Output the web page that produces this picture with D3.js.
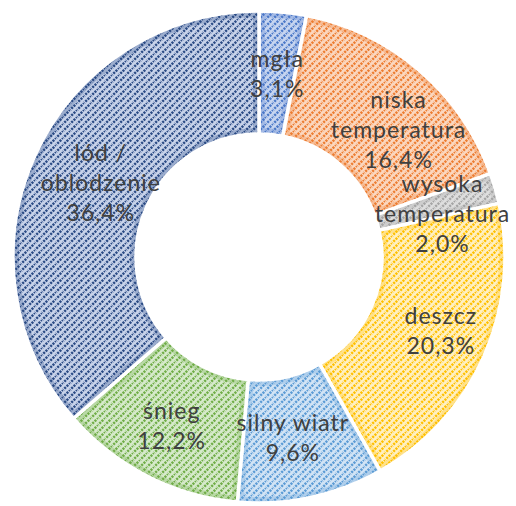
<!DOCTYPE html>
<html><head><meta charset="utf-8">
<script src="https://cdn.jsdelivr.net/npm/d3@7"></script>
<style>html,body{margin:0;padding:0;background:#fff;}svg{display:block;}</style>
</head><body>
<svg id="chart" width="516" height="506"></svg>
<script>
const categories = ["mgła", "niska temperatura", "wysoka temperatura", "deszcz", "silny wiatr", "śnieg", "lód / oblodzenie"];
const values = [3.1, 16.4, 2.0, 20.3, 9.6, 12.2, 36.4];
const labelLines = [["mgła"], ["niska", "temperatura"], ["wysoka", "temperatura"], ["deszcz"], ["silny wiatr"], ["śnieg"], ["lód /", "oblodzenie"]];
const valueLabels = ["3,1%", "16,4%", "2,0%", "20,3%", "9,6%", "12,2%", "36,4%"];
const stripeColors = ["#4a78c8", "#ed7d31", "#a5a5a5", "#ffc000", "#5b9bd5", "#70ad47", "#2b4b85"];
const bgColors = ["#c7d5f0", "#fbd7bf", "#dedede", "#fff0c2", "#d2e4f5", "#d6eacb", "#c8d3ea"];

const svg = d3.select("#chart");
const cx = 259, cy = 257, R = 246, r0 = 123;
// small label nudges (Excel best-fit placement)
const nudge = [[0, 4], [17, 16], [3, 9], [10, -2], [-6, -3], [-2, 1], [13, 4]];
const defs = svg.append("defs");

categories.forEach((c, i) => {
  const p = defs.append("pattern").attr("id", "pat" + i)
    .attr("patternUnits", "userSpaceOnUse").attr("width", 7).attr("height", 7);
  p.append("rect").attr("width", 7).attr("height", 7).attr("fill", bgColors[i]);
  const g = p.append("g").attr("stroke", stripeColors[i]).attr("stroke-width", 2.4).attr("stroke-dasharray", "2.2,1.1");
  g.append("line").attr("x1", -1).attr("y1", 8).attr("x2", 8).attr("y2", -1);
  g.append("line").attr("x1", -4.5).attr("y1", 4.5).attr("x2", 4.5).attr("y2", -4.5);
  g.append("line").attr("x1", 2.5).attr("y1", 11.5).attr("x2", 11.5).attr("y2", 2.5);
});

const pie = d3.pie().value(d => d).sort(null);
const arcs = pie(values);
const arc = d3.arc().innerRadius(r0).outerRadius(R);
const labelArc = d3.arc().innerRadius(188).outerRadius(188);

const g = svg.append("g").attr("transform", `translate(${cx},${cy})`);

arcs.forEach((a, i) => {
  defs.append("clipPath").attr("id", "clip" + i).append("path").attr("d", arc(a));
});

const slices = g.selectAll("g.slice").data(arcs).join("g").attr("class", "slice");
slices.append("path").attr("d", arc).attr("fill", (d, i) => `url(#pat${i})`);
// bevel-like darker inner edge
slices.append("path").attr("d", arc)
  .attr("clip-path", (d, i) => `url(#clip${i})`)
  .attr("fill", "none")
  .attr("stroke", (d, i) => stripeColors[i])
  .attr("stroke-opacity", 0.28)
  .attr("stroke-width", 12);
slices.append("path").attr("d", arc)
  .attr("fill", "none").attr("stroke", "#fff").attr("stroke-width", 3.5).attr("stroke-linejoin", "round");

const lineH = 30;
arcs.forEach((a, i) => {
  let [x, y] = labelArc.centroid(a);
  x += nudge[i][0]; y += nudge[i][1];
  const lines = labelLines[i].concat([valueLabels[i]]);
  const y0 = y - (lines.length - 1) * lineH / 2;
  const t = g.append("text").attr("text-anchor", "middle")
    .attr("font-family", "Lato, 'Open Sans', sans-serif").attr("font-size", 23)
    .attr("letter-spacing", 1.0)
    .attr("fill", "#404040");
  lines.forEach((ln, k) => {
    t.append("tspan").attr("x", x).attr("y", y0 + k * lineH).attr("dy", "0.35em").text(ln);
  });
});
</script>
</body></html>
